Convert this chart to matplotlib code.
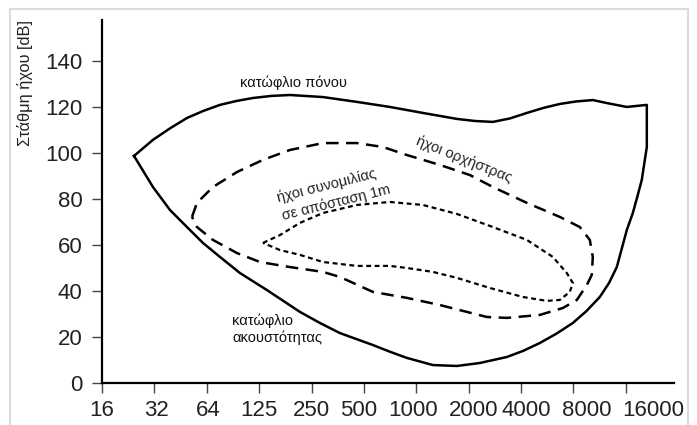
import matplotlib
matplotlib.use("Agg")
import matplotlib.pyplot as plt
from matplotlib.lines import Line2D
from matplotlib.transforms import ScaledTranslation

plt.rcParams['font.family'] = ['Liberation Sans', 'DejaVu Sans']

# x positions are octave indices (0 = 16 Hz, 10 = 16000 Hz)
tick_labels = ["16", "32", "64", "125", "250", "500", "1000", "2000", "4000", "8000", "16000"]
tick_pos = list(range(len(tick_labels)))
y_ticks = [0, 20, 40, 60, 80, 100, 120, 140]

# Hearing area: pain threshold (top) + right edge + hearing threshold (bottom), closed loop
area_oct = [0.611, 0.973, 1.298, 1.622, 1.937, 2.252, 2.567, 2.882, 3.235, 3.588,
            4.218, 4.866, 5.496, 6.126, 6.775, 7.119, 7.462, 7.786, 8.111, 8.430,
            8.740, 9.055, 9.370, 9.637, 10.019, 10.401,
            10.401, 10.353, 10.305, 10.220, 10.134, 10.019, 9.828, 9.680, 9.504,
            9.250, 8.989, 8.680, 8.359, 8.044, 7.729, 7.214, 6.775, 6.317, 5.821,
            5.496, 5.172, 4.542, 4.160, 3.779, 3.149, 2.634, 2.252, 1.927, 1.622,
            1.298, 0.973, 0.611]
area_db = [98.7, 105.7, 110.7, 115.2, 118.3, 120.9, 122.6, 123.9, 124.8, 125.2,
           124.3, 122.2, 120.0, 117.4, 114.8, 113.9, 113.5, 115.0, 117.4, 119.6,
           121.3, 122.4, 123.0, 121.7, 120.0, 120.9,
           102.6, 95.5, 88.3, 81.0, 73.9, 66.5, 50.4, 43.5, 37.4,
           31.3, 26.1, 21.5, 17.4, 14.0, 11.3, 8.7, 7.4, 7.8, 10.9,
           13.6, 16.5, 21.7, 26.1, 30.9, 40.4, 47.8, 54.8, 60.9, 67.8,
           75.2, 85.2, 98.7]

# Orchestra sounds (dashed loop)
orch_oct = [1.718, 1.813, 2.118, 2.576, 3.073, 3.588, 4.218, 4.866, 5.363, 5.821,
            6.450, 7.023, 7.462, 8.111, 8.740, 9.122, 9.313, 9.370, 9.350, 9.256,
            9.065, 8.798, 8.359, 7.729, 7.347, 6.966, 6.450, 5.821, 5.172, 4.542,
            4.218, 3.588, 3.015, 2.576, 2.118, 1.813, 1.718]
orch_db = [72.2, 78.3, 85.2, 91.7, 97.0, 101.3, 104.3, 104.3, 102.6, 99.1,
           94.8, 90.4, 85.2, 78.3, 72.2, 67.8, 62.2, 54.8, 47.0, 42.6,
           36.1, 32.6, 29.6, 28.3, 28.7, 30.9, 33.9, 37.0, 39.6, 46.1,
           48.3, 50.4, 52.6, 56.5, 62.2, 67.8, 72.2]

# Conversation at 1 m (dotted loop)
speech_oct = [3.073, 3.397, 3.779, 4.218, 4.866, 5.496, 6.126, 6.775, 7.462, 8.111,
              8.607, 8.874, 8.989, 8.931, 8.740, 8.492, 8.034, 7.405, 6.775, 6.317,
              5.821, 5.496, 4.866, 4.218, 3.779, 3.397, 3.073]
speech_db = [60.9, 64.3, 69.6, 73.9, 77.4, 78.7, 77.4, 73.5, 67.8, 62.2,
             54.8, 47.8, 43.5, 39.6, 36.1, 35.7, 37.4, 41.3, 45.7, 48.3,
             50.0, 50.9, 50.9, 52.6, 55.7, 57.8, 60.9]

# horizontal shift of each frequency label relative to its tick (pixels)
label_shift_px = [0, 2, 1, 0, 0, -5, -3, 5, 5, 13, 27]

fig = plt.figure(figsize=(6.97, 4.25), dpi=100)
ax = fig.add_axes([102/697, 42/425, 572/697, 363/425])

ax.plot(area_oct, area_db, color='black', lw=1.8, solid_joinstyle='round')
ax.plot(orch_oct, orch_db, color='black', lw=1.8, dashes=(5, 3))
ax.plot(speech_oct, speech_db, color='black', lw=1.6, dashes=(2.2, 1.6))

ax.set_xlim(0, 10.92)
ax.set_ylim(0, 157.8)
ax.set_xticks(tick_pos)
ax.set_xticklabels(tick_labels)
ax.set_yticks(y_ticks)

for s in ['top', 'right']:
    ax.spines[s].set_visible(False)
for s in ['left', 'bottom']:
    ax.spines[s].set_linewidth(1.6)
    ax.spines[s].set_color('black')

ax.tick_params(axis='both', direction='out', length=7, width=1.0,
               color='#444444', labelsize=16, labelcolor='#222222')
ax.tick_params(axis='x', pad=5)
ax.tick_params(axis='y', pad=7)

for lab, dx in zip(ax.get_xticklabels(), label_shift_px):
    lab.set_transform(lab.get_transform() + ScaledTranslation(dx / 100, 0, fig.dpi_scale_trans))

fs = 10.5
ax.text(3.66, 130.4, "κατώφλιο πόνου", fontsize=fs, ha='center', va='center', color='#111111')
ax.text(4.294, 85.7, "ήχοι συνομιλίας", fontsize=fs, ha='center', va='center',
        rotation=14, color='#222222')
ax.text(4.466, 78.3, "σε απόσταση 1m", fontsize=fs, ha='center', va='center',
        rotation=14, color='#222222')
ax.text(6.908, 97.0, "ήχοι ορχήστρας", fontsize=fs, ha='center', va='center',
        rotation=-22, color='#222222')
ax.text(2.48, 23.5, "κατώφλιο\nακουστότητας", fontsize=fs, ha='left', va='center',
        multialignment='left', color='#111111')

fig.text(25/697, 1 - 82.5/425, "Στάθμη ήχου [dB]", rotation=90, fontsize=11.8,
         ha='center', va='center', color='#222222')

# light gray frame around the figure
frame_col = '#dcdcdc'
fig.add_artist(Line2D([10/697, 10/697], [0, 1 - 9/425], color=frame_col, lw=1.5,
                      transform=fig.transFigure))
fig.add_artist(Line2D([10/697, 688/697], [1 - 9/425, 1 - 9/425], color=frame_col, lw=1.5,
                      transform=fig.transFigure))
fig.add_artist(Line2D([688/697, 688/697], [0, 1 - 9/425], color=frame_col, lw=1.5,
                      transform=fig.transFigure))

fig.savefig("out.png", dpi=100)
